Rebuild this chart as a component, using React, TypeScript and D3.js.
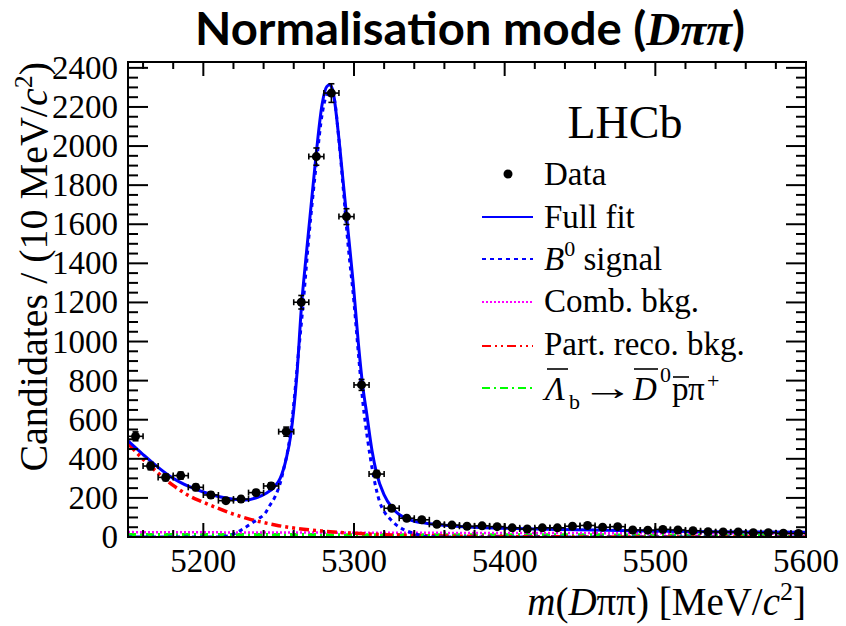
import React from 'react';
import * as d3 from 'd3';

// ---------- data ----------
const binCentres = [
  5155, 5165, 5175, 5185, 5195, 5205, 5215, 5225, 5235, 5245,
  5255, 5265, 5275, 5285, 5295, 5305, 5315, 5325, 5335, 5345,
  5355, 5365, 5375, 5385, 5395, 5405, 5415, 5425, 5435, 5445,
  5455, 5465, 5475, 5485, 5495, 5505, 5515, 5525, 5535, 5545,
  5555, 5565, 5575, 5585, 5595,
];
const candidates = [
  515, 363, 305, 314, 254, 215, 186, 194, 227, 261,
  539, 1201, 1946, 2271, 1639, 778, 322, 147, 96, 88,
  65, 61, 55, 57, 53, 47, 41, 47, 47, 55,
  59, 50, 53, 36, 35, 39, 36, 32, 27, 26,
  26, 22, 22, 19, 18,
];

const fullFitMass = [
  5150, 5160, 5170, 5180, 5190, 5200, 5210, 5220, 5228, 5236,
  5242, 5247, 5251, 5255, 5258, 5262, 5265.3, 5268, 5270.8, 5275.2,
  5278.6, 5282, 5284, 5286.3, 5289.6, 5292.9, 5296.2, 5299.5, 5302.9, 5306,
  5308.4, 5312, 5315, 5320, 5325, 5330, 5337, 5348, 5360, 5370,
  5400, 5437, 5460, 5494, 5538, 5600,
];
const fullFitY = [
  492, 422, 356, 300, 260, 230, 207, 193, 189, 203,
  225, 255, 300, 400, 520, 820, 1196, 1420, 1639, 1981,
  2202, 2305, 2313, 2271, 2066, 1810, 1554, 1298, 991, 760,
  633, 440, 326, 215, 152, 115, 88, 70, 60, 54,
  45, 39, 36, 31, 27, 24,
];

const signalMass = [
  5150, 5210, 5216, 5221, 5226, 5232, 5237, 5241, 5244, 5247.6,
  5251, 5254, 5256.5, 5260, 5263, 5266, 5270, 5275, 5279, 5283,
  5285, 5287, 5290, 5293, 5296, 5300, 5303, 5306, 5309, 5313,
  5317, 5320, 5324, 5328, 5333, 5340, 5348, 5360, 5600,
];
const signalY = [
  0, 0, 5, 19, 40, 70, 95, 121, 160, 206,
  275, 370, 462, 680, 930, 1170, 1530, 1910, 2170, 2275,
  2280, 2240, 2030, 1770, 1500, 1200, 930, 680, 500, 310,
  180, 130, 92, 62, 38, 18, 3, 0, 0,
];

const partRecoMass = [
  5150, 5160, 5170, 5180, 5190, 5200, 5210, 5220, 5230, 5240,
  5250, 5260, 5270, 5280, 5290, 5300, 5320, 5340, 5360, 5380,
  5400, 5450, 5500, 5600,
];
const partRecoY = [
  478, 398, 327, 264, 213, 178, 146, 117, 93, 74,
  58, 46, 37, 30, 24, 19, 12, 8, 5, 3,
  2, 0.5, 0, 0,
];

const combMass = [5150, 5300, 5450, 5600];
const combY = [25, 22, 20, 18];

const lambdaMass = [5150, 5300, 5450, 5600];
const lambdaY = [13, 12, 11, 10];

const xTickValues = [5200, 5300, 5400, 5500, 5600];
const yTickValues = [0, 200, 400, 600, 800, 1000, 1200, 1400, 1600, 1800, 2000, 2200, 2400];

// ---------- layout ----------
const W = 846;
const H = 626;
const L = 128, R = 806, T = 62, B = 537;
const SERIF = '"Liberation Serif", "Times New Roman", Times, serif';
const serif = { fontFamily: SERIF };

const BLUE = '#0000ff';
const MAGENTA = '#ff00ff';
const RED = '#ff0000';
const GREEN = '#00ff00';

export default function App() {
  const x = d3.scaleLinear().domain([5150, 5600]).range([L, R]);
  const y = d3.scaleLinear().domain([0, 2430]).range([B, T]);

  const mk = (ms: number[], vs: number[]) =>
    d3.line<number>()
      .x((_, i) => x(ms[i]))
      .y((v) => y(v))
      .curve(d3.curveMonotoneX)(vs) || '';

  const minorX = d3.range(5160, 5601, 20).filter((v) => v % 100 !== 0);
  const minorY = d3.range(0, 2401, 50).filter((v) => v % 200 !== 0);

  const binHalf = 5;
  const cap = 3;

  return (
    <svg
      width={W}
      height={H}
      viewBox={`0 0 ${W} ${H}`}
      style={{ position: 'absolute', left: 0, top: 0, background: '#fff', fontFamily: SERIF }}
    >
      <defs>
        <clipPath id="frame">
          <rect x={L} y={T} width={R - L} height={B - T} />
        </clipPath>
      </defs>

      {/* Title */}
      <text
        x={195}
        y={45}
        style={{ fontFamily: 'Lato, sans-serif', fontWeight: 'bold' }}
        fontSize={46}
        textLength={550}
        lengthAdjust="spacingAndGlyphs"
        fill="#000"
      >
        Normalisation mode (
        <tspan style={{ fontFamily: SERIF, fontStyle: 'italic' }}>Dππ</tspan>)
      </text>

      {/* curves */}
      <g clipPath="url(#frame)" fill="none">
        <path d={mk(lambdaMass, lambdaY)} stroke={GREEN} strokeWidth={3} strokeDasharray="8 4 2 4" />
        <path d={mk(combMass, combY)} stroke={MAGENTA} strokeWidth={2.5} strokeDasharray="2 2" />
        <path d={mk(partRecoMass, partRecoY)} stroke={RED} strokeWidth={3.5} strokeDasharray="10 4 3 4 3 4" />
        <path d={mk(signalMass, signalY)} stroke={BLUE} strokeWidth={3} strokeDasharray="4 4" />
        <path d={mk(fullFitMass, fullFitY)} stroke={BLUE} strokeWidth={3} />
      </g>

      {/* data points */}
      <g stroke="#000" strokeWidth={1.6}>
        {binCentres.map((m, i) => {
          const n = candidates[i];
          const e = Math.sqrt(n);
          const cx = x(m);
          const cy = y(n);
          const x0 = x(m - binHalf);
          const x1 = x(m + binHalf);
          const y0 = y(n - e);
          const y1 = y(n + e);
          return (
            <g key={m}>
              <line x1={x0} x2={x1} y1={cy} y2={cy} />
              <line x1={x0} x2={x0} y1={cy - cap} y2={cy + cap} />
              <line x1={x1} x2={x1} y1={cy - cap} y2={cy + cap} />
              <line x1={cx} x2={cx} y1={y0} y2={y1} />
              <line x1={cx - cap} x2={cx + cap} y1={y0} y2={y0} />
              <line x1={cx - cap} x2={cx + cap} y1={y1} y2={y1} />
              <circle cx={cx} cy={cy} r={4.5} fill="#000" stroke="none" />
            </g>
          );
        })}
      </g>

      {/* frame */}
      <rect x={L} y={T} width={R - L} height={B - T} fill="none" stroke="#000" strokeWidth={2} />

      {/* ticks */}
      <g stroke="#000" strokeWidth={2}>
        {xTickValues.map((v) => (
          <g key={'xm' + v}>
            <line x1={x(v)} x2={x(v)} y1={B} y2={B - 14} />
            <line x1={x(v)} x2={x(v)} y1={T} y2={T + 14} />
          </g>
        ))}
        {minorX.map((v) => (
          <g key={'xn' + v}>
            <line x1={x(v)} x2={x(v)} y1={B} y2={B - 7} />
            <line x1={x(v)} x2={x(v)} y1={T} y2={T + 7} />
          </g>
        ))}
        {yTickValues.map((v) => (
          <g key={'ym' + v}>
            <line x1={L} x2={L + 20} y1={y(v)} y2={y(v)} />
            <line x1={R} x2={R - 20} y1={y(v)} y2={y(v)} />
          </g>
        ))}
        {minorY.map((v) => (
          <g key={'yn' + v}>
            <line x1={L} x2={L + 10} y1={y(v)} y2={y(v)} />
            <line x1={R} x2={R - 10} y1={y(v)} y2={y(v)} />
          </g>
        ))}
      </g>

      {/* tick labels */}
      <g style={serif} fontSize={33} fill="#000">
        {xTickValues.map((v) => (
          <text key={'xl' + v} x={x(v)} y={572} textAnchor="middle" style={serif}>{v}</text>
        ))}
        {yTickValues.map((v) => (
          <text key={'yl' + v} x={118} y={y(v) + 11} textAnchor="end" style={serif}>{v}</text>
        ))}
      </g>

      {/* axis titles */}
      <text x={R} y={615} textAnchor="end" style={serif} fontSize={39} fill="#000">
        <tspan fontStyle="italic">m</tspan>(<tspan fontStyle="italic">D</tspan>ππ) [MeV/<tspan fontStyle="italic">c</tspan>
        <tspan fontSize={26} dy={-15}>2</tspan>
        <tspan dy={15}>]</tspan>
      </text>
      <text
        transform={`translate(47, ${T}) rotate(-90)`}
        x={0}
        y={0}
        textAnchor="end"
        style={serif}
        fontSize={40}
        fill="#000"
      >
        Candidates / (10 MeV/<tspan fontStyle="italic">c</tspan>
        <tspan fontSize={26} dy={-15}>2</tspan>
        <tspan dy={15}>)</tspan>
      </text>

      {/* LHCb label */}
      <text x={625} y={138} textAnchor="middle" style={serif} fontSize={46} fill="#000">LHCb</text>

      {/* legend */}
      <g style={serif} fontSize={33} fill="#000">
        <circle cx={508} cy={174} r={4.5} fill="#000" />
        <text x={544} y={185} style={serif}>Data</text>

        <line x1={482} x2={533} y1={217} y2={217} stroke={BLUE} strokeWidth={2} />
        <text x={544} y={228} style={serif}>Full fit</text>

        <line x1={482} x2={533} y1={259} y2={259} stroke={BLUE} strokeWidth={2} strokeDasharray="4 4" />
        <text x={544} y={270} style={serif}>
          <tspan fontStyle="italic">B</tspan>
          <tspan fontSize={22} dy={-14}>0</tspan>
          <tspan dy={14}> signal</tspan>
        </text>

        <line x1={482} x2={533} y1={302} y2={302} stroke={MAGENTA} strokeWidth={2} strokeDasharray="2 2" />
        <text x={544} y={312} style={serif}>Comb. bkg.</text>

        <line x1={482} x2={533} y1={346} y2={346} stroke={RED} strokeWidth={2} strokeDasharray="9 4 2 4 2 4" />
        <text x={544} y={355} style={serif}>Part. reco. bkg.</text>

        <line x1={482} x2={533} y1={388} y2={388} stroke={GREEN} strokeWidth={2} strokeDasharray="8 4 2 4" />
        <text x={545} y={400} style={serif} fontStyle="italic">Λ</text>
        <text x={569} y={409} style={serif} fontSize={22}>b</text>
        <text transform="translate(581, 400) scale(1.6, 1.1)" x={0} y={0} style={serif}>→</text>
        <text x={633} y={400} style={serif} fontStyle="italic">D</text>
        <text x={660} y={382} style={serif} fontSize={22}>0</text>
        <text x={672} y={400} style={serif}>p</text>
        <text x={688} y={400} style={serif}>π</text>
        <text x={707} y={388} style={serif} fontSize={22}>+</text>
        <g stroke="#000" strokeWidth={1.6}>
          <line x1={547} x2={568} y1={369} y2={369} />
          <line x1={634} x2={658} y1={369} y2={369} />
          <line x1={673} x2={689} y1={377} y2={377} />
        </g>
      </g>
    </svg>
  );
}
